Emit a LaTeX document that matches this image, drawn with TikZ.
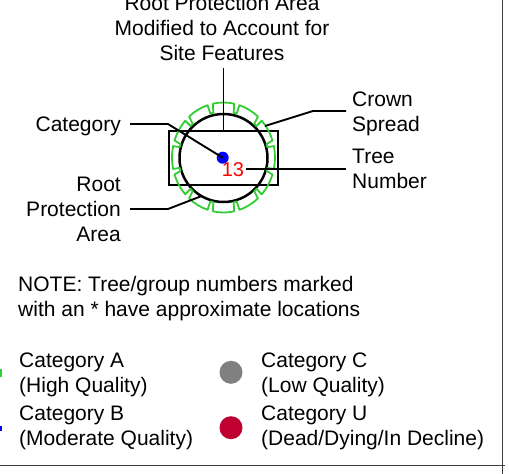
\documentclass[tikz,border=0pt]{standalone}
\usepackage{fontspec}
\setmainfont{Liberation Sans}
\definecolor{ringgreen}{RGB}{50,205,50}
\definecolor{catu}{RGB}{192,0,48}
\definecolor{catc}{RGB}{128,128,128}
\definecolor{frame}{RGB}{60,60,60}
\begin{document}
\begin{tikzpicture}[x=1pt,y=-1pt,
  txt/.style={font=\fontsize{21}{25}\selectfont, inner sep=0pt},
  lead/.style={line width=1.9pt},
  legdot/.style={circle, inner sep=0pt, minimum size=23pt}]
\useasboundingbox (0,0) rectangle (509,474);
% frame lines
\coordinate (fTop) at (502.5,0);
\coordinate (fBot) at (502.5,474);
\coordinate (fL) at (0,465.5);
\coordinate (fR) at (505,465.5);
\draw[frame, line width=1.3pt] (fTop) -- (fBot);
\draw[frame, line width=1.3pt] (fL) -- (fR);
% top text
\node[txt, anchor=base] (t1) at (222,10) {Root Protection Area};
\node[txt, anchor=base] (t2) at (222,35) {Modified to Account for};
\node[txt, anchor=base] (t3) at (222,60) {Site Features};
% symbol
\node[draw, line width=2.5pt, minimum width=109pt, minimum height=54pt, inner sep=0pt] (rect) at (223.5,158) {};
\node[draw, circle, line width=2.5pt, minimum size=88pt, inner sep=0pt] (rpa) at (223.5,158) {};
\begin{scope}[shift={(223.5,157.5)}, x=1pt, y=1pt]
\draw[ringgreen, line width=1.8pt, line join=round] (77:45 and 46)
  \foreach \i in {0,...,11}{
    -- ({78+30*\i}:51.5 and 55)
    arc[start angle={78+30*\i}, end angle={102+30*\i}, x radius=51.5, y radius=55]
    -- ({103+30*\i}:45 and 46)
    arc[start angle={103+30*\i}, end angle={107+30*\i}, x radius=45, y radius=46]
  } -- cycle;
\end{scope}
\node[circle, fill=blue, inner sep=0pt, minimum size=12pt] (dot) at (222.7,157.7) {};
\node[inner sep=0pt, text=red, font=\fontsize{20}{22}\selectfont] (num) at (233,170) {13};
% leader coordinates
\coordinate (vtop) at (223.5,68);
\coordinate (catA) at (130,124);
\coordinate (catB) at (168,124);
\coordinate (rpaA) at (130,209);
\coordinate (rpaB) at (168,209);
\coordinate (rpaC) at (201.7,196);
\coordinate (crA) at (265,126);
\coordinate (crB) at (313,111);
\coordinate (crC) at (346,111);
\coordinate (tnA) at (246,169);
\coordinate (tnB) at (346,169);
\draw[lead] (vtop) -- (rect.north);
\draw[lead] (catA) -- (catB) -- (dot.center);
\draw[lead] (rpaA) -- (rpaB) -- (rpaC);
\draw[lead] (crA) -- (crB) -- (crC);
\draw[lead] (tnA) -- (tnB);
% labels
\node[txt, anchor=base east] (lcat) at (121,131) {Category};
\node[txt, anchor=base east] (lr1) at (121,191.7) {Root};
\node[txt, anchor=base east] (lr2) at (121,216.7) {Protection};
\node[txt, anchor=base east] (lr3) at (121,241.7) {Area};
\node[txt, anchor=base west] (lc1) at (352,106) {Crown};
\node[txt, anchor=base west] (lc2) at (352,131.7) {Spread};
\node[txt, anchor=base west] (ln1) at (352,163.3) {Tree};
\node[txt, anchor=base west] (ln2) at (352,188.3) {Number};
% note
\node[txt, anchor=base west] (n1) at (18,291.7) {NOTE: Tree/group numbers marked};
\node[txt, anchor=base west] (n2) at (18,316.7) {with an * have approximate locations};
% legend
\node[txt, anchor=base west] (a1) at (19,367) {Category A};
\node[txt, anchor=base west] (a2) at (19,392) {(High Quality)};
\node[txt, anchor=base west] (b1) at (19,420.7) {Category B};
\node[txt, anchor=base west] (b2) at (19,445) {(Moderate Quality)};
\node[txt, anchor=base west] (c1) at (261,367) {Category C};
\node[txt, anchor=base west] (c2) at (261,392) {(Low Quality)};
\node[txt, anchor=base west] (u1) at (261,420.7) {Category U};
\node[txt, anchor=base west] (u2) at (261,445) {(Dead/Dying/In Decline)};
\node[legdot, fill=catc] (gc) at (231,372.3) {};
\node[legdot, fill=catu] (gu) at (231,427.7) {};
\fill[ringgreen] (0,369.3) rectangle (1.5,376.7);
\fill[blue] (0,426) rectangle (1.5,430.7);
\end{tikzpicture}
\end{document}
